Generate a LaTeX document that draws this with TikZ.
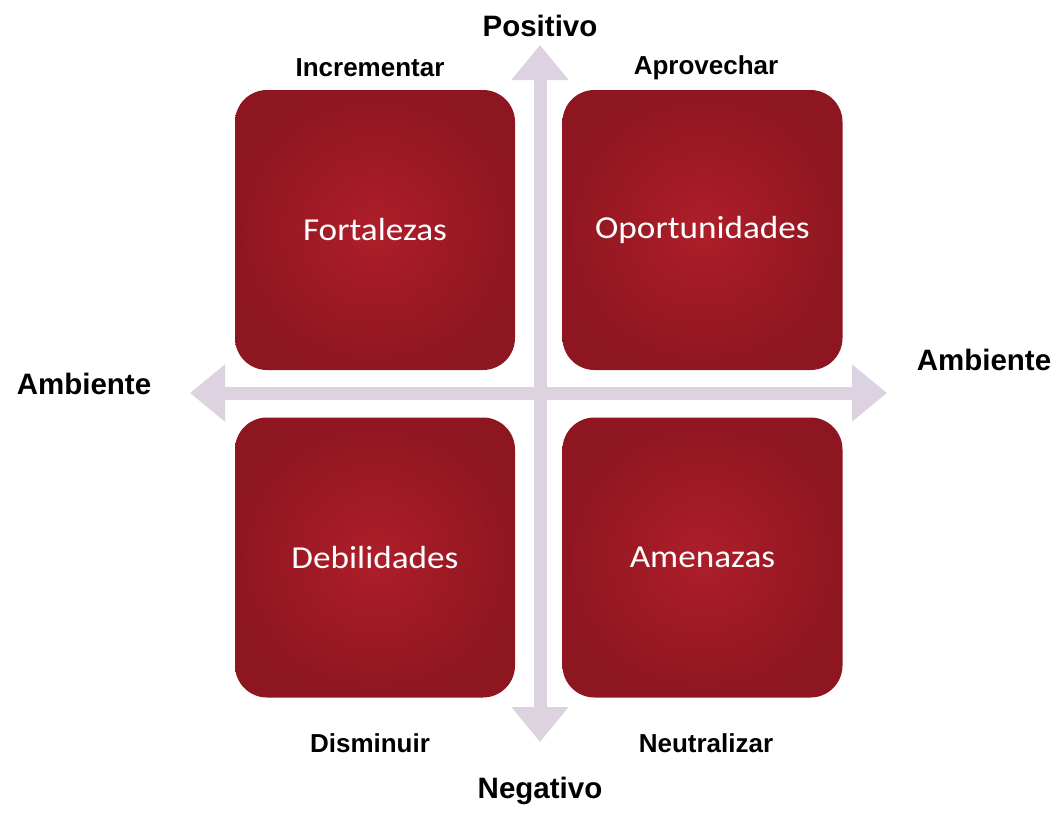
\documentclass[tikz,border=0pt]{standalone}
\usepackage{fontspec}
\setmainfont{Liberation Sans}
\newfontfamily\cuadrofont{Carlito}
\usetikzlibrary{arrows.meta}
\definecolor{lila}{HTML}{DCD2E0}
\definecolor{rojoclaro}{HTML}{AE1E2A}
\definecolor{rojoosc}{HTML}{8E1620}
\tikzset{
	cuadro/.style={rounded corners=32pt,minimum width=280pt,minimum height=280pt,inner sep=0pt,
		shading=radial,inner color=rojoclaro,outer color=rojoosc,text=white,
		font=\cuadrofont\fontsize{32}{32}\selectfont},
	etiq/.style={font=\bfseries\fontsize{29.5}{29.5}\selectfont,inner sep=0pt},
	etiqc/.style={font=\bfseries\fontsize{26}{26}\selectfont,inner sep=0pt},
	eje/.style={lila,line width=13pt,{Triangle[width=55pt,length=35pt]}-{Triangle[width=55pt,length=35pt]}}
}
\newcommand{\ancho}[1]{\scalebox{1.1}[1]{#1}}
\begin{document}
\begin{tikzpicture}[x=1pt,y=-1pt]
		\useasboundingbox[fill=white] (0,0) rectangle (1058,835);
		\coordinate (arriba) at (540,45);
		\coordinate (abajo) at (540,742);
		\coordinate (izq) at (190,393);
		\coordinate (der) at (887,393);
		\draw[eje] (abajo)--(arriba);
		\draw[eje] (izq)--(der);
		\node[cuadro] (fort) at (375,230) {\ancho{Fortalezas}};
		\node[cuadro] (opor) at (702.5,230) {\ancho{Oportunidades}};
		\node[cuadro] (debi) at (375,557.5) {\ancho{Debilidades}};
		\node[cuadro] (amen) at (702.5,557.5) {\ancho{Amenazas}};
		\node[etiq] (pos) at (540,26) {Positivo};
		\node[etiq] (neg) at (540,791) {Negativo};
		\node[etiq] (ambizq) at (84,384) {Ambiente};
		\node[etiq] (ambder) at (984,360) {Ambiente};
		\node[etiqc] (inc) at (370,68) {Incrementar};
		\node[etiqc] (apr) at (706,68) {Aprovechar};
		\node[etiqc] (dis) at (370,743) {Disminuir};
		\node[etiqc] (neu) at (706,743) {Neutralizar};
\end{tikzpicture}
\end{document}
